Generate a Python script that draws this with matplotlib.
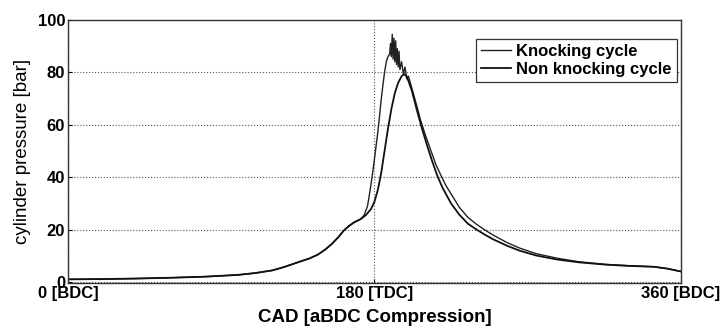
import matplotlib.pyplot as plt

plt.rcParams['font.family'] = ['Liberation Sans', 'DejaVu Sans']
plt.rcParams['font.weight'] = 'bold'

# crank angle [deg aBDC] and pressure [bar]
cad_normal = [0, 20, 40, 60, 80, 100, 110, 120, 127, 136, 142, 147, 151, 155, 159, 162,
              165, 168, 172, 175, 178, 180, 182, 184, 186, 188, 190, 192, 194, 196,
              197.5, 199, 202, 205, 208, 211, 214, 217, 220, 225, 230, 235, 240, 245,
              250, 258, 265, 275, 287, 300, 316, 330, 344, 352, 360]
p_normal = [1.0, 1.1, 1.3, 1.6, 2.0, 2.7, 3.4, 4.4, 5.7, 7.7, 9.0, 10.5, 12.3, 14.5, 17.2, 19.6,
            21.3, 22.7, 24.0, 25.5, 27.8, 30.5, 35.0, 41.5, 50.0, 58.5, 66.0, 72.0, 76.0, 78.5,
            79.3, 78.5, 73.0, 65.5, 58.5, 52.0, 46.0, 40.5, 36.0, 30.0, 25.6, 22.2, 20.0, 18.0,
            16.2, 13.8, 12.0, 10.1, 8.6, 7.5, 6.6, 6.1, 5.8, 5.1, 4.0]

cad_knock = [0, 20, 40, 60, 80, 100, 110, 120, 127, 136, 142, 147, 151, 155, 159, 162,
             165, 168, 172, 174, 176, 178, 180, 182, 183, 184, 185, 186, 187, 188, 189,
             189.5, 190, 190.5, 191, 191.5, 192, 192.5, 193, 193.5, 194, 194.5,
             195, 196, 197, 198, 199, 200, 202, 205, 207, 210, 213, 216, 219,
             222, 226, 230, 235, 240, 245, 250, 258, 265, 275, 287, 300, 316,
             330, 344, 352, 360]
p_knock = [1.0, 1.1, 1.3, 1.6, 2.0, 2.7, 3.4, 4.4, 5.7, 7.7, 9.0, 10.5, 12.3, 14.5, 17.2, 19.6,
           21.3, 22.7, 24.0, 25.5, 29.0, 37.0, 46.6, 57.0, 63.0, 69.5, 75.0, 80.0, 84.0, 86.0, 87.0,
           91.0, 86.0, 94.5, 85.0, 93.0, 84.0, 92.0, 83.0, 89.0, 82.0, 88.0,
           81.0, 84.0, 79.5, 82.0, 77.5, 78.5, 74.0, 67.0, 62.0, 56.0, 50.5, 45.0, 40.8,
           36.8, 32.6, 28.4, 24.6, 22.0, 19.8, 17.8, 15.0, 13.0, 10.8, 9.1, 7.7, 6.7,
           6.2, 5.8, 5.1, 4.0]

xticks = [0, 180, 360]
xtick_labels = ['0 [BDC]', '180 [TDC]', '360 [BDC]']
yticks = [0, 20, 40, 60, 80, 100]

fig = plt.figure(figsize=(7.22, 3.31), dpi=100)
ax = fig.add_axes([0.094, 0.145, 0.849, 0.795])

ax.plot(cad_knock, p_knock, color='#222222', lw=1.0, label='Knocking cycle')
ax.plot(cad_normal, p_normal, color='#111111', lw=1.3, label='Non knocking cycle')

ax.set_xlim(0, 360)
ax.set_ylim(-0.4, 100)
ax.set_xticks(xticks)
ax.set_xticklabels(xtick_labels)
ax.set_yticks(yticks)
ax.tick_params(direction='in', length=3, labelsize=12, pad=2)
ax.grid(True, linestyle=':', color='#555555', lw=0.8)

ax.set_xlabel('CAD [aBDC Compression]', fontsize=13.5, fontweight='bold', labelpad=6)
ax.set_ylabel('cylinder pressure [bar]', fontsize=13.5, fontweight='normal', labelpad=5)

for s in ax.spines.values():
    s.set_linewidth(1.0)
    s.set_color('#333333')

leg = ax.legend(loc='upper right', bbox_to_anchor=(0.9935, 0.928), borderaxespad=0,
                fontsize=12, handlelength=1.8, handletextpad=0.3, borderpad=0.3,
                labelspacing=0.2, fancybox=False, framealpha=1)
leg.get_frame().set_edgecolor('#333333')
leg.get_frame().set_linewidth(0.9)

fig.savefig('out.png', dpi=100)
